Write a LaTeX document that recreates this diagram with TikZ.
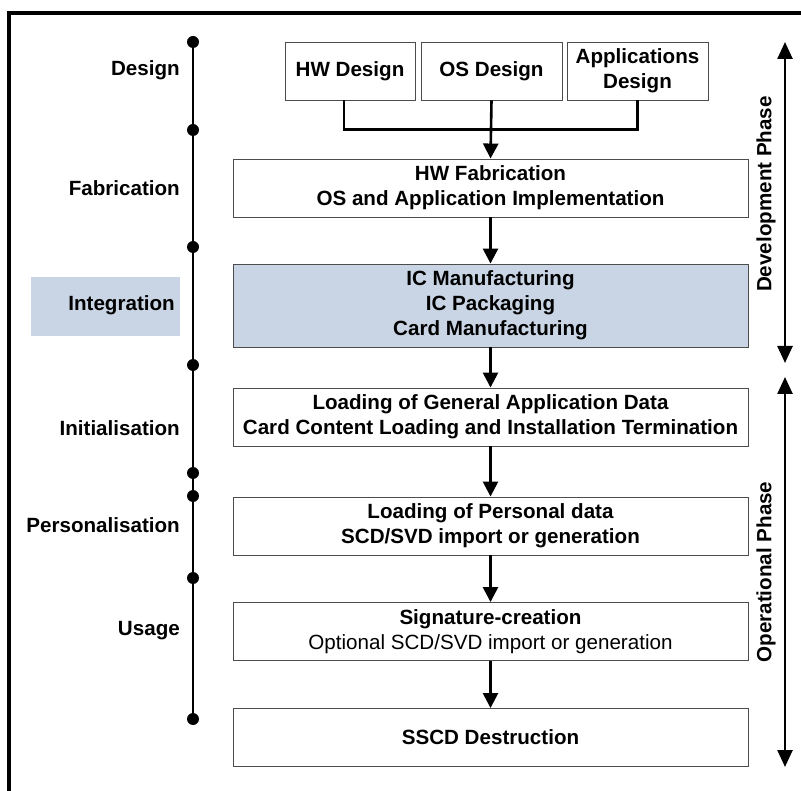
\documentclass[tikz,border=0pt]{standalone}
\usepackage{fontspec}
\setmainfont{Liberation Sans}
\usetikzlibrary{arrows.meta}
\definecolor{intbg}{HTML}{C9D5E4}
\begin{document}
\begin{tikzpicture}[x=1pt,y=-1pt,
  txt/.style={font=\bfseries\fontsize{20.6}{24.8}\selectfont, align=center},
  box/.style={txt, draw=black!70, line width=0.9pt, inner sep=0pt},
  stagebox/.style={box, minimum width=515pt, minimum height=58pt},
  dbox/.style={box, minimum height=58pt},
  conn/.style={line width=2.6pt, black},
  arr/.style={conn, -{Triangle[width=15pt,length=15pt]}},
  dot/.style={circle, fill=black, inner sep=0pt, minimum size=12pt},
  lab/.style={txt, anchor=east, inner sep=0pt},
  phase/.style={line width=2.6pt, {Triangle[width=15pt,length=17pt]}-{Triangle[width=15pt,length=17pt]}}
]
\useasboundingbox (0,0) rectangle (801,791);
% frame
\draw[line width=4pt] (9,791) -- (9,13) -- (801,13);

% timeline
\node[dot] (d0) at (193,42) {};
\node[dot] (d1) at (193,130) {};
\node[dot] (d2) at (193,247) {};
\node[dot] (d3) at (193,365) {};
\node[dot] (d4) at (193,473) {};
\node[dot] (d5) at (193,496) {};
\node[dot] (d6) at (193,578) {};
\node[dot] (d7) at (193,719) {};
\draw[conn] (d0.center) -- (d7.center);

% left labels
\node[fill=intbg, minimum width=149pt, minimum height=59pt, inner sep=0pt] (intbg) at (105.5,306.5) {};
\node[lab] (ldes) at (180,70) {Design};
\node[lab] (lfab) at (180,188) {Fabrication};
\node[lab] (lint) at (175,305) {Integration};
\node[lab] (lini) at (180,428) {Initialisation};
\node[lab] (lper) at (180,525) {Personalisation};
\node[lab] (luse) at (180,631) {Usage};

% design boxes
\node[dbox, minimum width=130pt] (hw) at (350,71) {HW Design};
\node[dbox, minimum width=141pt] (os) at (491.5,71) {OS Design};
\node[dbox, minimum width=141pt] (apps) at (637.5,71) {Applications\\Design};

% stage boxes
\node[stagebox] (fab) at (490.5,188) {HW Fabrication\\OS and Application Implementation};
\node[stagebox, fill=intbg, minimum height=83pt] (int) at (490.5,305.5) {IC Manufacturing\\IC Packaging\\Card Manufacturing};
\node[stagebox] (ini) at (490.5,417) {Loading of General Application Data\\Card Content Loading and Installation Termination};
\node[stagebox] (per) at (490.5,526) {Loading of Personal data\\SCD/SVD import or generation};
\node[stagebox] (sig) at (490.5,631.5) {Signature-creation\\\mdseries Optional SCD/SVD import or generation};
\node[stagebox] (des) at (490.5,737.5) {SSCD Destruction};

% connectors
\coordinate (hwd) at ([xshift=-6pt]hw.south);
\draw[conn] (hwd) -- ++(0,29) -| (apps.south);
\draw[arr] (os.south) -- (fab.north);
\draw[arr] (fab.south) -- (int.north);
\draw[arr] (int.south) -- (ini.north);
\draw[arr] (ini.south) -- (per.north);
\draw[arr] (per.south) -- (sig.north);
\draw[arr] (sig.south) -- (des.north);

% phases
\coordinate (dt) at (785,42);
\coordinate (db) at (785,363);
\coordinate (ot) at (785,377);
\coordinate (ob) at (785,767);
\draw[phase] (dt) -- (db);
\draw[phase] (ot) -- (ob);
\node[txt, rotate=90] (dev) at (766,194) {Development Phase};
\node[txt, rotate=90] (ops) at (766,572) {Operational Phase};
\end{tikzpicture}
\end{document}
